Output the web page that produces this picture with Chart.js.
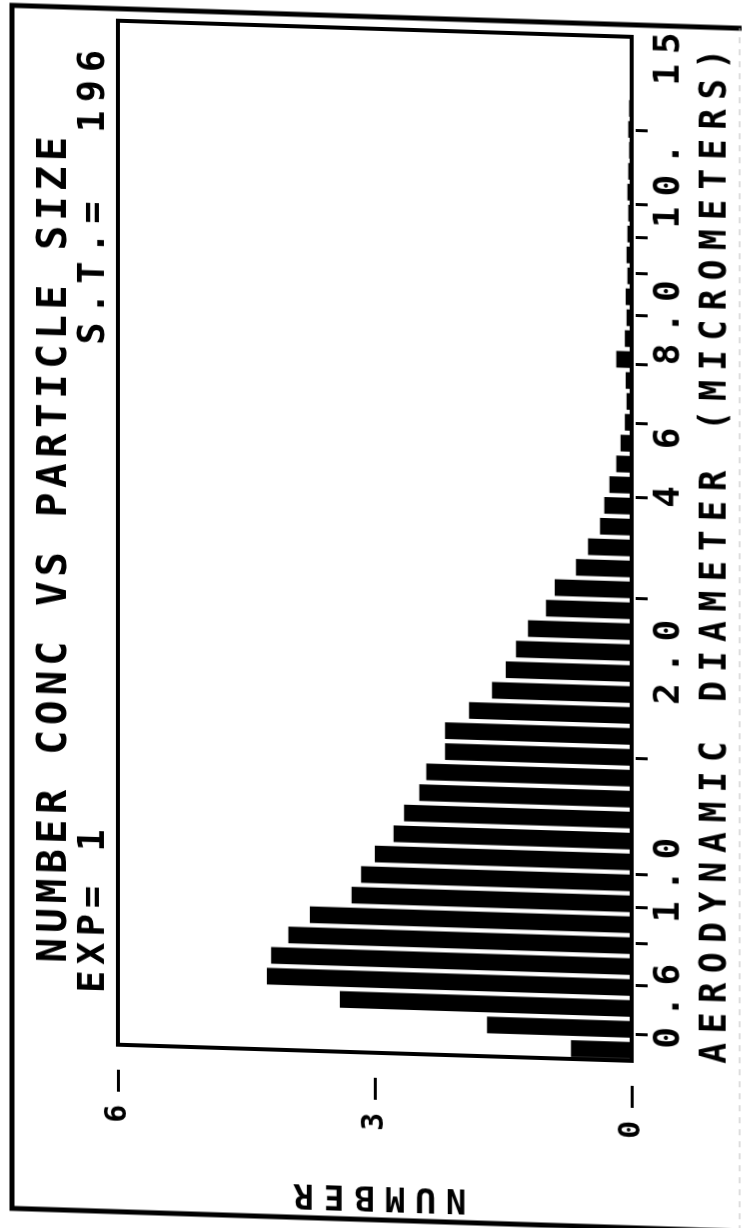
<!DOCTYPE html>
<html>
<head>
<meta charset="utf-8">
<title>Number conc vs particle size</title>
<script src="https://cdn.jsdelivr.net/npm/chart.js@4.4.0/dist/chart.umd.min.js"></script>
<style>
  html, body { margin: 0; padding: 0; background: #fff; overflow: hidden; }
  /* plot is laid out landscape, turned a quarter turn and sheared a little, like the plotter sheet */
  #sheet {
    position: absolute; left: 0; top: 0;
    width: 1228px; height: 742px;
    transform-origin: 0 0;
    transform: skewY(1.8deg) translateY(1228px) rotate(-90deg);
  }
</style>
</head>
<body>
<div id="sheet"><canvas id="sizeChart" width="1228" height="742"></canvas></div>
<script>
// channel midpoints (micrometers), 32 channels per decade starting at 0.5
const diameters = [
  0.5183, 0.5570, 0.5985, 0.6432, 0.6912, 0.7428, 0.7982, 0.8577, 0.9217, 0.9905,
  1.064, 1.144, 1.229, 1.321, 1.419, 1.525, 1.639, 1.761, 1.893, 2.034,
  2.186, 2.349, 2.524, 2.712, 2.915, 3.132, 3.366, 3.617, 3.887, 4.177,
  4.489, 4.823, 5.183, 5.570, 5.986, 6.432, 6.912, 7.428, 7.982, 8.577,
  9.217, 9.905, 10.64, 11.44, 12.29, 13.21, 14.19, 15.25, 16.39
];
// number concentration per channel
const counts = [
  0.71, 1.69, 3.41, 4.26, 4.21, 4.01, 3.76, 3.27, 3.16, 3.00,
  2.78, 2.66, 2.48, 2.40, 2.18, 2.18, 1.90, 1.63, 1.47, 1.35,
  1.21, 1.00, 0.90, 0.65, 0.51, 0.37, 0.32, 0.26, 0.18, 0.13,
  0.08, 0.06, 0.07, 0.18, 0.08, 0.06, 0.07, 0.05, 0.06, 0.05,
  0.04, 0.05, 0.04, 0.03, 0.04, 0.03, 0, 0, 0
];
const diamMin = 0.5;
const diamMax = 16.9;
// tick marks along the diameter axis
const diamTicks = [0.5, 0.6, 0.7, 0.8, 0.9, 1, 2, 3, 4, 5, 6, 7, 8, 9, 10, 15];
// the plotter set its diameter labels a little off the marks
const diamLabels = ['0.6', '1.0', '2.0', '4', '6', '8.0', '10.', '15'];
const diamLabelAt = [0.616, 0.950, 2.01, 3.55, 4.34, 6.46, 10.35, 16.0];
const countTicks = [0, 3, 6];

const FONT = 'DejaVu Sans Mono';

// plotter lettering is widely spaced
const spacing = {
  id: 'spacing',
  beforeLayout(chart) { chart.ctx.letterSpacing = '10px'; },
  beforeDraw(chart) { chart.ctx.letterSpacing = '10px'; }
};

// plot frame, sheet border and the two heading lines
const decor = {
  id: 'decor',
  afterDraw(chart) {
    const { ctx, chartArea: a } = chart;
    ctx.save();
    ctx.strokeStyle = '#000';
    ctx.lineWidth = 4;
    ctx.strokeRect(a.left, a.top, a.right - a.left, a.bottom - a.top);

    ctx.lineWidth = 5;
    ctx.beginPath();
    ctx.moveTo(20, 742);
    ctx.lineTo(20, 12);
    ctx.lineTo(1223, 12);
    ctx.lineTo(1223, 742);
    ctx.stroke();
    ctx.strokeStyle = '#bbb';
    ctx.lineWidth = 1;
    ctx.setLineDash([6, 6]);
    ctx.beginPath();
    ctx.moveTo(20, 740);
    ctx.lineTo(1223, 740);
    ctx.stroke();
    ctx.setLineDash([]);

    ctx.fillStyle = '#000';
    ctx.textBaseline = 'middle';
    ctx.textAlign = 'left';
    ctx.font = 'bold 41px "' + FONT + '"';
    ctx.letterSpacing = '5px';
    ctx.fillText('NUMBER CONC VS PARTICLE SIZE', a.left + 80, 55);
    ctx.font = 'bold 37px "' + FONT + '"';
    ctx.letterSpacing = '6px';
    ctx.fillText('EXP= 1', a.left + 51, 94);
    ctx.letterSpacing = '8px';
    ctx.textAlign = 'right';
    ctx.fillText('S.T.=  196', a.right - 22, 94);
    ctx.restore();
  }
};

const ctx = document.getElementById('sizeChart').getContext('2d');
const sizeChart = new Chart(ctx, {
  type: 'bar',
  data: {
    datasets: [{
      data: diameters.map((d, i) => ({ x: d, y: counts[i] })),
      backgroundColor: '#000',
      borderWidth: 0,
      barPercentage: 0.8,
      categoryPercentage: 1
    }]
  },
  options: {
    responsive: false,
    animation: false,
    layout: { padding: { left: 10, right: 17, top: 118, bottom: 0 } },
    plugins: {
      legend: { display: false },
      tooltip: { enabled: false }
    },
    scales: {
      x: {
        type: 'logarithmic',
        position: 'bottom',
        weight: 0,
        min: diamMin,
        max: diamMax,
        afterBuildTicks: s => { s.ticks = diamTicks.map(v => ({ value: v })); },
        afterFit: s => { s.height = 16; },
        border: { display: false },
        grid: {
          drawOnChartArea: false,
          tickLength: 16,
          tickWidth: 3,
          tickColor: '#000',
          tickBorderDash: [0, 4, 12, 100]
        },
        ticks: { display: false }
      },
      xLabel: {
        type: 'logarithmic',
        position: 'bottom',
        weight: 1,
        min: diamMin,
        max: diamMax,
        afterBuildTicks: s => { s.ticks = diamLabelAt.map(v => ({ value: v })); },
        afterFit: s => { s.height = 94; },
        border: { display: false },
        grid: { display: false, drawTicks: false },
        ticks: {
          autoSkip: false,
          maxRotation: 0,
          minRotation: 0,
          padding: 0,
          color: '#000',
          font: { family: FONT, weight: 'bold', size: 36 },
          callback: (v, i) => diamLabels[i]
        },
        title: {
          display: true,
          text: 'AERODYNAMIC DIAMETER (MICROMETERS)',
          color: '#000',
          font: { family: FONT, weight: 'bold', size: 37 },
          padding: { top: 0, bottom: 3 }
        }
      },
      y: {
        position: 'left',
        min: 0,
        max: 6,
        afterBuildTicks: s => { s.ticks = countTicks.map(v => ({ value: v })); },
        afterFit: s => { s.width = 177; },
        border: { display: false },
        grid: {
          drawOnChartArea: false,
          tickLength: 47,
          tickWidth: 3,
          tickColor: '#000',
          tickBorderDash: [22, 100]
        },
        ticks: {
          padding: 3,
          color: '#000',
          font: { family: FONT, weight: 'bold', size: 30 }
        },
        title: {
          display: true,
          text: 'NUMBER',
          color: '#000',
          font: { family: FONT, weight: 'bold', size: 34 },
          padding: { top: 14, bottom: 0 }
        }
      }
    }
  },
  plugins: [spacing, decor]
});
</script>
</body>
</html>
